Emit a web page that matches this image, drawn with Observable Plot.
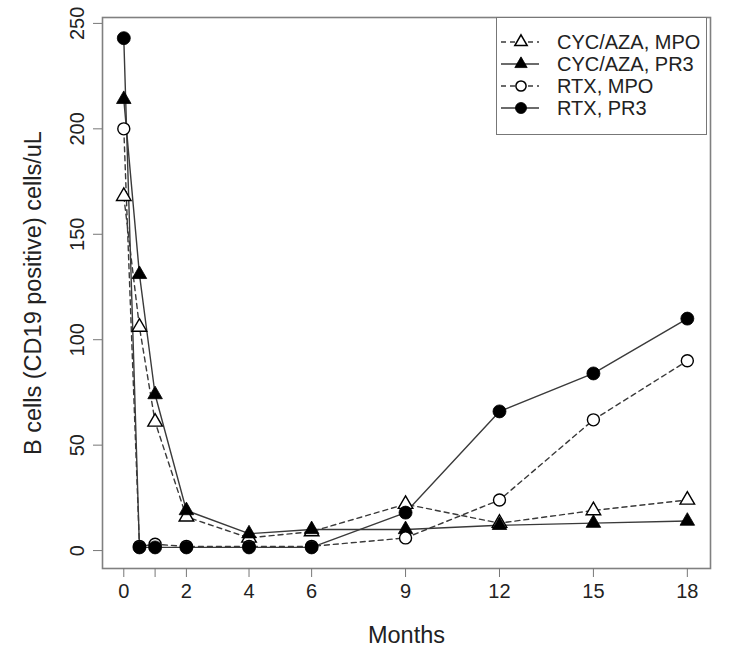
<!DOCTYPE html>
<html>
<head>
<meta charset="utf-8">
<script src="https://cdn.jsdelivr.net/npm/d3@7"></script>
<script src="https://cdn.jsdelivr.net/npm/@observablehq/plot@0.6"></script>
<style>
  html, body { margin: 0; padding: 0; background: #fff; }
  #wrap { position: relative; width: 730px; height: 650px; font-family: "Liberation Sans", Arial, sans-serif; }
  #legend { position: absolute; left: 496px; top: 17px; width: 211px; height: 118px; border: 1.5px solid #777; background: #fff; box-sizing: border-box; }
  .row { position: absolute; left: 0; height: 22px; display: flex; align-items: center; }
  .row span { position: absolute; left: 60px; font-size: 20px; color: #222; white-space: nowrap; line-height: 22px; }
</style>
</head>
<body>
<div id="wrap"><div id="legend"></div></div>
<script>
const months = [0, 0.5, 1, 2, 4, 6, 9, 12, 15, 18];
const cycMpo = [168, 106, 61, 16, 6, 9, 22, 13, 19, 24];
const cycPr3 = [214, 131, 74, 19, 8, 10, 10, 12, 13, 14];
const rtxMpo = [200, 2, 3, 2, 2, 2, 6, 24, 62, 90];
const rtxPr3 = [243, 1.5, 1.5, 1.5, 1.5, 1.5, 18, 66, 84, 110];

const xTicks = [0, 1, 2, 4, 6, 9, 12, 15, 18];
const xTickLabels = ["0", "", "2", "4", "6", "9", "12", "15", "18"];
const yTicks = [0, 50, 100, 150, 200, 250];

const seriesNames = ["CYC/AZA, MPO", "CYC/AZA, PR3", "RTX, MPO", "RTX, PR3"];
const seriesValues = [cycMpo, cycPr3, rtxMpo, rtxPr3];
const seriesStyle = [
  {dash: "5,4", symbol: "triangle", fill: "white", r: 5.4},
  {dash: null, symbol: "triangle", fill: "black", r: 5.4},
  {dash: "5,4", symbol: "circle", fill: "white", r: 6},
  {dash: null, symbol: "circle", fill: "black", r: 6.5}
];

const rows = [];
seriesNames.forEach((name, i) => {
  months.forEach((m, j) => rows.push({series: name, idx: i, month: m, value: seriesValues[i][j]}));
});

const lineColor = "#3a3a3a";
const marks = [];
seriesNames.forEach((name, i) => {
  const st = seriesStyle[i];
  marks.push(Plot.line(rows.filter(d => d.idx === i), {
    x: "month", y: "value", stroke: lineColor, strokeWidth: 1.4,
    strokeDasharray: st.dash || undefined
  }));
});
seriesNames.forEach((name, i) => {
  const st = seriesStyle[i];
  marks.push(Plot.dot(rows.filter(d => d.idx === i), {
    x: "month", y: "value", symbol: st.symbol, r: st.r,
    fill: st.fill, stroke: "black", strokeWidth: st.fill === "white" ? 1.4 : 0.8
  }));
});

const chart = Plot.plot({
  width: 730,
  height: 650,
  marginLeft: 102,
  marginRight: 20,
  marginTop: 17,
  marginBottom: 82,
  style: {fontFamily: "'Liberation Sans', Arial, sans-serif", fontSize: "20px", color: "#222", background: "white"},
  x: {domain: [-0.68, 18.74]},
  y: {domain: [-8.5, 252.8]},
  marks: [
    ...marks,
    Plot.frame({stroke: "#808080", strokeWidth: 1.6}),
    Plot.axisX({ticks: xTicks, tickFormat: (d) => xTickLabels[xTicks.indexOf(d)], tickSize: 9, tickPadding: 6,
      stroke: "#777", fontSize: 20, label: null}),
    Plot.axisX({ticks: [], label: "Months", labelAnchor: "center", labelArrow: "none", labelOffset: 74, fontSize: 23.5}),
    Plot.axisY({ticks: yTicks, tickSize: 9, tickPadding: 10, tickRotate: -90, stroke: "#777", fontSize: 20, label: null}),
    Plot.axisY({ticks: [], label: "B cells (CD19 positive) cells/uL", labelAnchor: "center", labelArrow: "none", labelOffset: 78, fontSize: 23.5})
  ]
});
const wrap = document.getElementById("wrap");
wrap.insertBefore(chart, wrap.firstChild);

// legend
const legend = d3.select("#legend");
seriesNames.forEach((name, i) => {
  const st = seriesStyle[i];
  const row = legend.append("div").attr("class", "row").style("top", (13 + i * 22) + "px");
  const svg = row.append("svg").attr("width", 50).attr("height", 22).style("position", "absolute").style("left", "0px");
  svg.append("line").attr("x1", 4).attr("x2", 42).attr("y1", 11).attr("y2", 11)
    .attr("stroke", lineColor).attr("stroke-width", 1.6).attr("stroke-dasharray", st.dash ? "5,4" : null);
  const sym = st.symbol === "triangle" ? d3.symbolTriangle : d3.symbolCircle;
  const r = st.r * 0.85;
  svg.append("path").attr("transform", "translate(24,11)")
    .attr("d", d3.symbol(sym, Math.PI * r * r)())
    .attr("fill", st.fill).attr("stroke", "black").attr("stroke-width", st.fill === "white" ? 1.5 : 0.8);
  row.append("span").text(name);
});
</script>
</body>
</html>
